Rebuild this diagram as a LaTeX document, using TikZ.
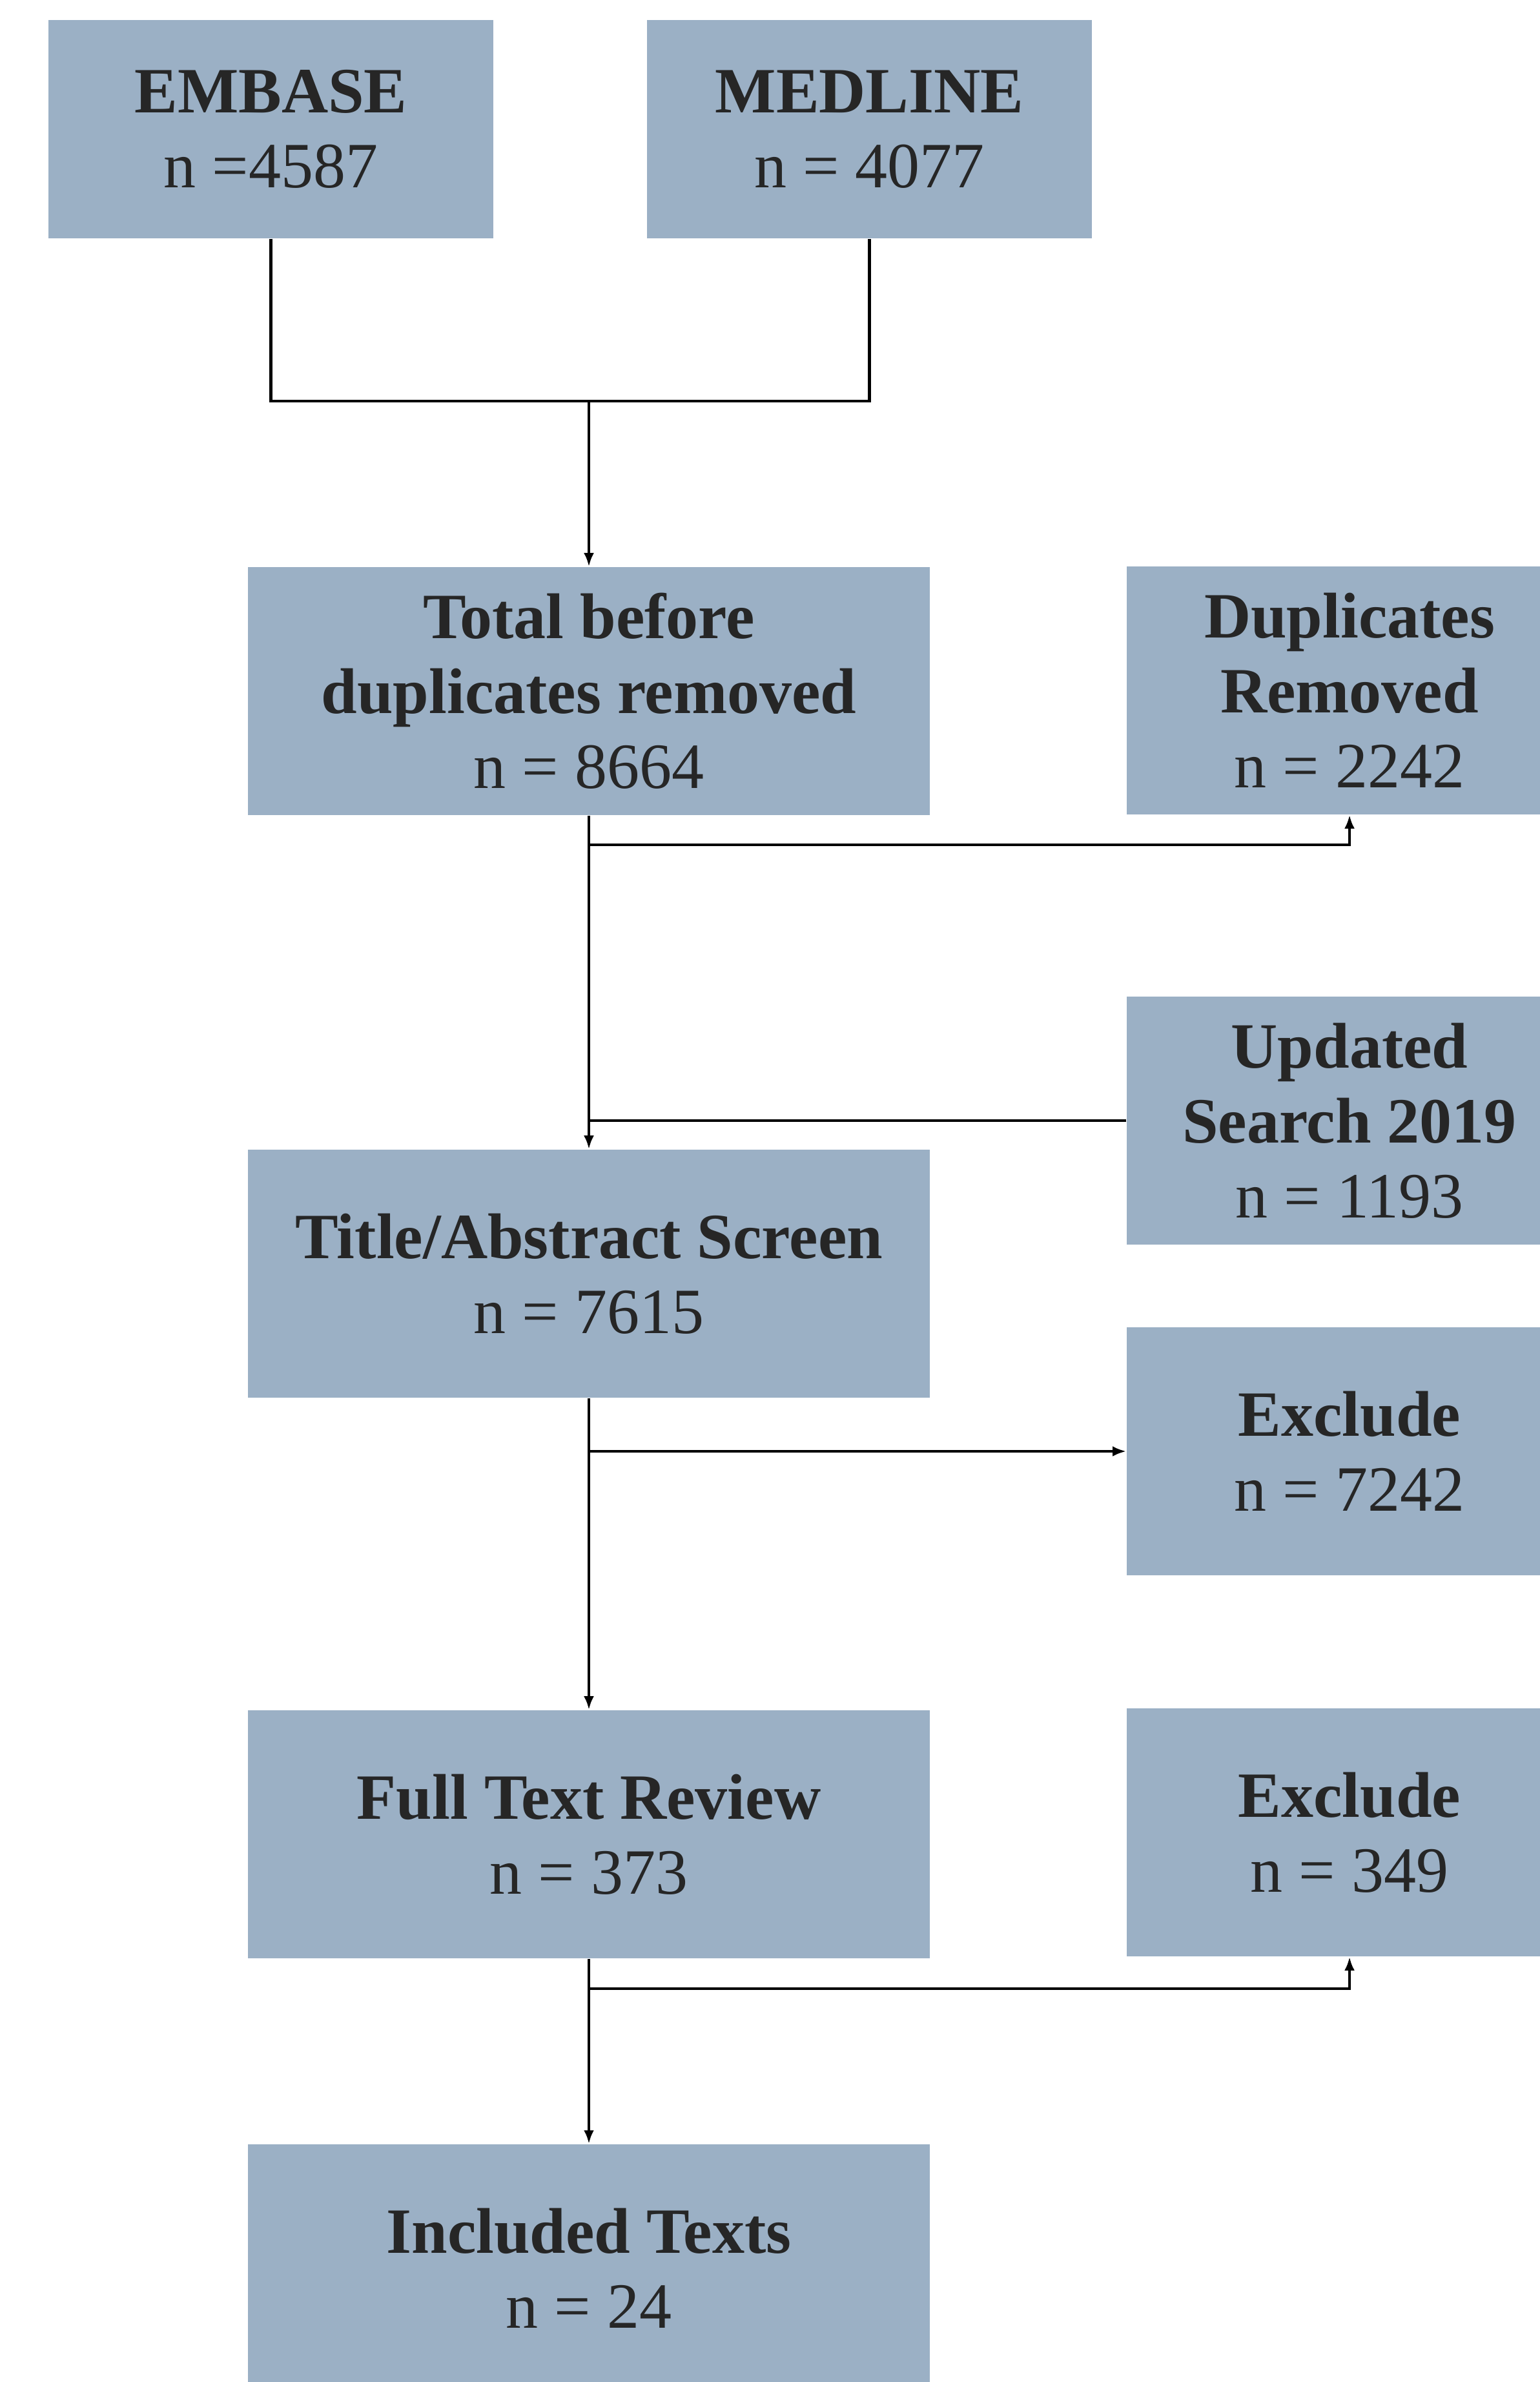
\documentclass[tikz,border=0pt]{standalone}
\usepackage{fontspec}
\setmainfont{Liberation Serif}
\usetikzlibrary{arrows.meta}

\definecolor{boxblue}{HTML}{9BB0C5}
\definecolor{boxtext}{HTML}{262626}

\begin{document}
\begin{tikzpicture}[
    box_node/.style={rectangle,fill=boxblue,text=boxtext,align=center,inner sep=0pt,
        font=\fontsize{28.45}{33}\selectfont,minimum height=3.84cm},
    main_node/.style={box_node,minimum width=10.56cm},
    src_node/.style={box_node,minimum width=6.89cm,minimum height=3.38cm},
    side_node/.style={box_node,minimum width=6.9cm},
    link/.style={line width=1.3pt},
    arrow/.style={link,-{Latex[length=6pt,width=4.5pt]}}]
    \useasboundingbox (0,0) rectangle (23.85,-36.88);

    \node[src_node] (embase) at (4.195,-2.00) {\textbf{EMBASE}\\n =4587};
    \node[src_node] (medline) at (13.465,-2.00) {\textbf{MEDLINE}\\n = 4077};
    \node[main_node] (total) at (9.12,-10.70) {\textbf{Total before}\\\textbf{duplicates removed}\\n = 8664};
    \node[side_node] (dup) at (20.90,-10.69) {\textbf{Duplicates}\\\textbf{Removed}\\n = 2242};
    \node[side_node] (updated) at (20.90,-17.35) {\textbf{Updated}\\\textbf{Search 2019}\\n = 1193};
    \node[main_node] (title) at (9.12,-19.72) {\textbf{Title/Abstract Screen}\\n = 7615};
    \node[side_node] (excl1) at (20.90,-22.47) {\textbf{Exclude}\\n = 7242};
    \node[main_node] (full) at (9.12,-28.40) {\textbf{Full Text Review}\\n = 373};
    \node[side_node] (excl2) at (20.90,-28.37) {\textbf{Exclude}\\n = 349};
    \node[main_node] (included) at (9.12,-35.12) {\textbf{Included Texts}\\n = 24};

    \coordinate (join) at (9.12,-6.21);
    \coordinate (split1) at (9.12,-13.08);
    \coordinate (merge) at (updated.west -| title.north);
    \coordinate (split2) at (excl1.west -| title.south);
    \coordinate (split3) at (9.12,-30.79);

    \draw[link] (embase.south) |- (join) -| (medline.south);
    \draw[arrow] (join) -- (total.north);
    \draw[arrow] (total.south) -- (title.north);
    \draw[arrow] (split1) -| (dup.south);
    \draw[link] (updated.west) -- (merge);
    \draw[arrow] (title.south) -- (full.north);
    \draw[arrow] (split2) -- (excl1.west);
    \draw[arrow] (full.south) -- (included.north);
    \draw[arrow] (split3) -| (excl2.south);
\end{tikzpicture}
\end{document}
